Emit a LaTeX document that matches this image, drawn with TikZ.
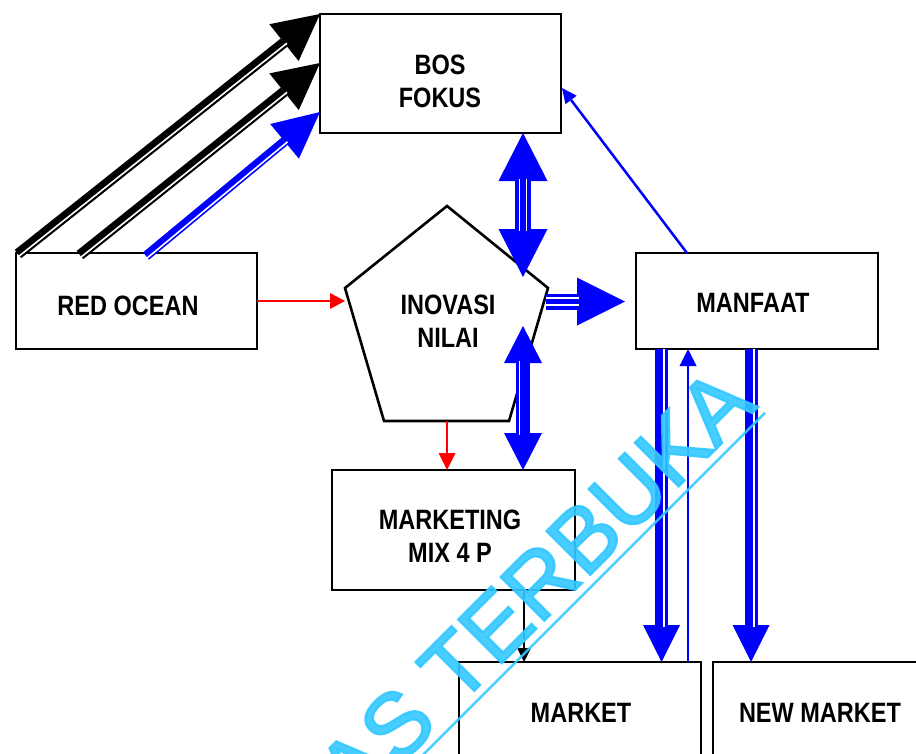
\documentclass[tikz,border=0pt]{standalone}
\usepackage{fontspec}
\setmainfont{Liberation Sans}[FakeStretch=0.84]
\newfontfamily\wmfont{Liberation Sans}[FakeBold=2.4]
\usetikzlibrary{arrows.meta,calc}
\definecolor{wmcyan}{RGB}{51,200,255}
\definecolor{myblue}{RGB}{0,0,255}
\definecolor{myred}{RGB}{255,0,0}
\begin{document}
\begin{tikzpicture}[x=1pt,y=-1pt,
  box/.style={draw=black, line width=2.8pt, rectangle, inner sep=0pt, outer sep=0pt, anchor=north west},
  lab/.style={font=\bfseries\fontsize{28}{33}\selectfont, align=center, inner sep=0pt, outer sep=0pt},
  stripe/.style={draw=white, line width=1.6pt, transform canvas={shift={#1}}},
  thin/.style={line width=2.5pt}
]
\path[use as bounding box] (0,0) rectangle (916,753);
\clip (0,0) rectangle (916,753);
\fill[white] (0,0) rectangle (916,753);

% boxes
\node[box, minimum width=241pt, minimum height=119pt] (bos) at (320,14) {};
\node[box, minimum width=241pt, minimum height=96pt] (red) at (16,253) {};
\node[box, minimum width=242pt, minimum height=96pt] (manf) at (636,253) {};
\node[box, minimum width=243pt, minimum height=120pt] (mix) at (332,470) {};
\node[box, minimum width=242pt, minimum height=140pt] (market) at (459,662) {};
\node[box, minimum width=260pt, minimum height=140pt] (newm) at (713,662) {};

% pentagon
\coordinate (pT) at (447,206);
\coordinate (pL) at (345,288);
\coordinate (pR) at (548,288);
\coordinate (pBL) at (384,421);
\coordinate (pBR) at (509,421);
\draw[line width=2.6pt, line join=miter] (pT) -- (pR) -- (pBR) -- (pBL) -- (pL) -- cycle;

% labels
\node[lab] (tbos) at (440,81.5) {BOS\\FOKUS};
\node[lab] (tred) at (128,305.5) {RED OCEAN};
\node[lab] (tinov) at (448,321) {INOVASI\\NILAI};
\node[lab] (tmanf) at (753,302.5) {MANFAAT};
\node[lab] (tmix) at (450,536.5) {MARKETING\\MIX 4 P};
\node[lab] (tmkt) at (581,712.5) {MARKET};
\node[lab] (tnew) at (820,712.5) {NEW MARKET};

% connection points
\coordinate (a1s) at (18,254);
\coordinate (a2s) at (80,255);
\coordinate (a3s) at (146,256);
\coordinate (a1e) at (bos.north west);
\coordinate (a2e) at ($(bos.north west)+(0,49)$);
\coordinate (a3e) at ($(bos.north west)+(0,98)$);
\coordinate (bT) at (bos.south -| 523,0);
\coordinate (bB) at (523,277);
\coordinate (cS) at (546,301.5);
\coordinate (cE) at (625,301.5);
\coordinate (dT) at (523,326);
\coordinate (dB) at (mix.north -| 523,0);
\coordinate (eT) at (manf.south -| 661.5,0);
\coordinate (eB) at (market.north -| 661.5,0);
\coordinate (fT) at (manf.south -| 751,0);
\coordinate (fB) at (newm.north -| 751,0);
\coordinate (gB) at (market.north -| 688,0);
\coordinate (gT) at (manf.south -| 688,0);
\coordinate (hS) at (manf.north -| 687,0);
\coordinate (hE) at (562,88);
\coordinate (rS) at (red.east);
\coordinate (rE) at (pL |- red.east);
\coordinate (sS) at (447,421);
\coordinate (sE) at (mix.north -| 447,0);
\coordinate (kS) at (mix.south -| 524,0);
\coordinate (kE) at (market.north -| 524,0);

% black fat arrows RED OCEAN -> BOS
\draw[black, line width=10.5pt, -{Triangle[length=46pt,width=47pt,line width=0pt]}] (a1s) -- (a1e);
\draw[stripe={(1.4,1.8)}, shorten >=44pt] (a1s) -- (a1e);
\draw[black, line width=10.5pt, -{Triangle[length=46pt,width=47pt,line width=0pt]}] (a2s) -- (a2e);
\draw[stripe={(1.4,1.8)}, shorten >=44pt] (a2s) -- (a2e);
\draw[myblue, line width=9.5pt, -{Triangle[length=46pt,width=45pt,line width=0pt]}] (a3s) -- (a3e);
\draw[stripe={(1.4,1.8)}, shorten >=44pt] (a3s) -- (a3e);

% BOS <-> INOVASI
\draw[myblue, line width=16pt, {Triangle[length=48pt,width=49pt,line width=0pt]}-{Triangle[length=48pt,width=49pt,line width=0pt]}] (bT) -- (bB);
\draw[stripe={(-3.6,0)}, shorten >=46pt, shorten <=46pt] (bT) -- (bB);
\draw[stripe={(3.6,0)}, shorten >=46pt, shorten <=46pt] (bT) -- (bB);

% INOVASI -> MANFAAT
\draw[myblue, line width=16pt, -{Triangle[length=48pt,width=48pt,line width=0pt]}] (cS) -- (cE);
\draw[stripe={(0,-3.6)}, shorten >=46pt] (cS) -- (cE);
\draw[stripe={(0,3.6)}, shorten >=46pt] (cS) -- (cE);

% INOVASI <-> MARKETING
\draw[myblue, line width=14pt, {Triangle[length=37pt,width=38pt,line width=0pt]}-{Triangle[length=37pt,width=38pt,line width=0pt]}] (dT) -- (dB);
\draw[stripe={(-3.5,0)}, shorten >=35pt, shorten <=35pt] (dT) -- (dB);

% MANFAAT -> MARKET, NEW MARKET
\draw[myblue, line width=13pt, -{Triangle[length=37pt,width=37pt,line width=0pt]}] (eT) -- (eB);
\draw[stripe={(2.5,0)}, shorten >=35pt] (eT) -- (eB);
\draw[myblue, line width=13pt, -{Triangle[length=37pt,width=37pt,line width=0pt]}] (fT) -- (fB);
\draw[stripe={(3,0)}, shorten >=35pt] (fT) -- (fB);

% MARKET -> MANFAAT thin
\draw[myblue, thin, -{Triangle[length=17pt,width=17pt,line width=0pt]}] (gB) -- (gT);
% MANFAAT -> BOS thin
\draw[myblue, thin, -{Triangle[length=15pt,width=14pt,line width=0pt]}] (hS) -- (hE);

% red arrows
\draw[myred, line width=2pt, -{Triangle[length=15pt,width=16pt,line width=0pt]}] (rS) -- (rE);
\draw[myred, line width=2pt, -{Triangle[length=17pt,width=17pt,line width=0pt]}] (sS) -- (sE);

% MARKETING -> MARKET
\draw[black, line width=1.6pt, -{Triangle[length=14pt,width=14pt,line width=0pt]}] (kS) -- (kE);

% watermark
\node[font=\wmfont\fontsize{90}{90}\selectfont, text=wmcyan, opacity=0.9, rotate=45, anchor=base east, inner sep=0pt] (wm) at (758.6,406.6) {AS TERBUKA};
\draw[wmcyan, opacity=0.9, line width=2.5pt] ($(wm.base west)!9pt!-90:(wm.base east)$) -- ($(wm.base east)!9pt!90:(wm.base west)$);
\end{tikzpicture}
\end{document}
